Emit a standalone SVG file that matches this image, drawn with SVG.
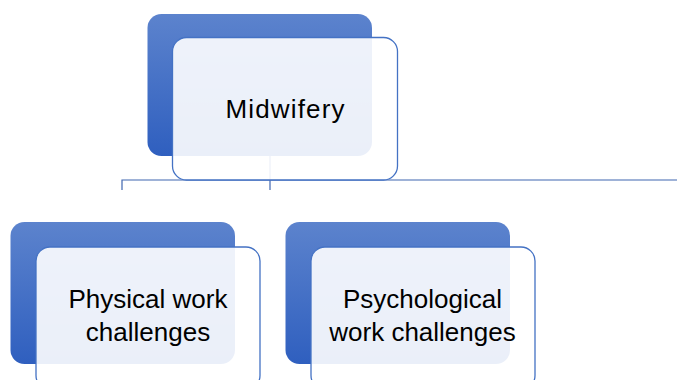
<svg xmlns="http://www.w3.org/2000/svg" width="677" height="380" viewBox="0 0 677 380">
<defs>
<linearGradient id="bg" x1="0" y1="0" x2="0" y2="1">
<stop offset="0" stop-color="#5c83cd"/>
<stop offset="1" stop-color="#2f5fbf"/>
</linearGradient>
<style>
.back{fill:url(#bg);}
.front{fill:#ffffff;fill-opacity:0.9;stroke:#4472c4;stroke-width:1.3;}
.conn{fill:none;stroke:#3f66b0;stroke-width:1.2;}
.lbl{font-family:"Liberation Sans",Arial,sans-serif;font-size:26px;fill:#000;text-anchor:middle;}
</style>
</defs>
<rect width="677" height="380" fill="#fff"/>
<g id="connectors">
<path class="conn" d="M122,190 V180 H677"/>
<path class="conn" d="M270,156 V190"/>
</g>
<g id="midwifery">
<rect class="back" x="147.5" y="14" width="224.5" height="142" rx="14"/>
<rect class="front" x="172.5" y="37.5" width="225" height="142.5" rx="14"/>
<text class="lbl" x="285" y="118" textLength="119">Midwifery</text>
</g>
<g id="physical">
<rect class="back" x="10.5" y="222" width="224.5" height="142" rx="14"/>
<rect class="front" x="36" y="247" width="224" height="142.5" rx="14"/>
<text class="lbl" x="148" y="308">Physical work</text>
<text class="lbl" x="148" y="341">challenges</text>
</g>
<g id="psychological">
<rect class="back" x="285.5" y="222" width="224.5" height="142" rx="14"/>
<rect class="front" x="311" y="247" width="224" height="142.5" rx="14"/>
<text class="lbl" x="422.5" y="308">Psychological</text>
<text class="lbl" x="422.5" y="341">work challenges</text>
</g>
</svg>
